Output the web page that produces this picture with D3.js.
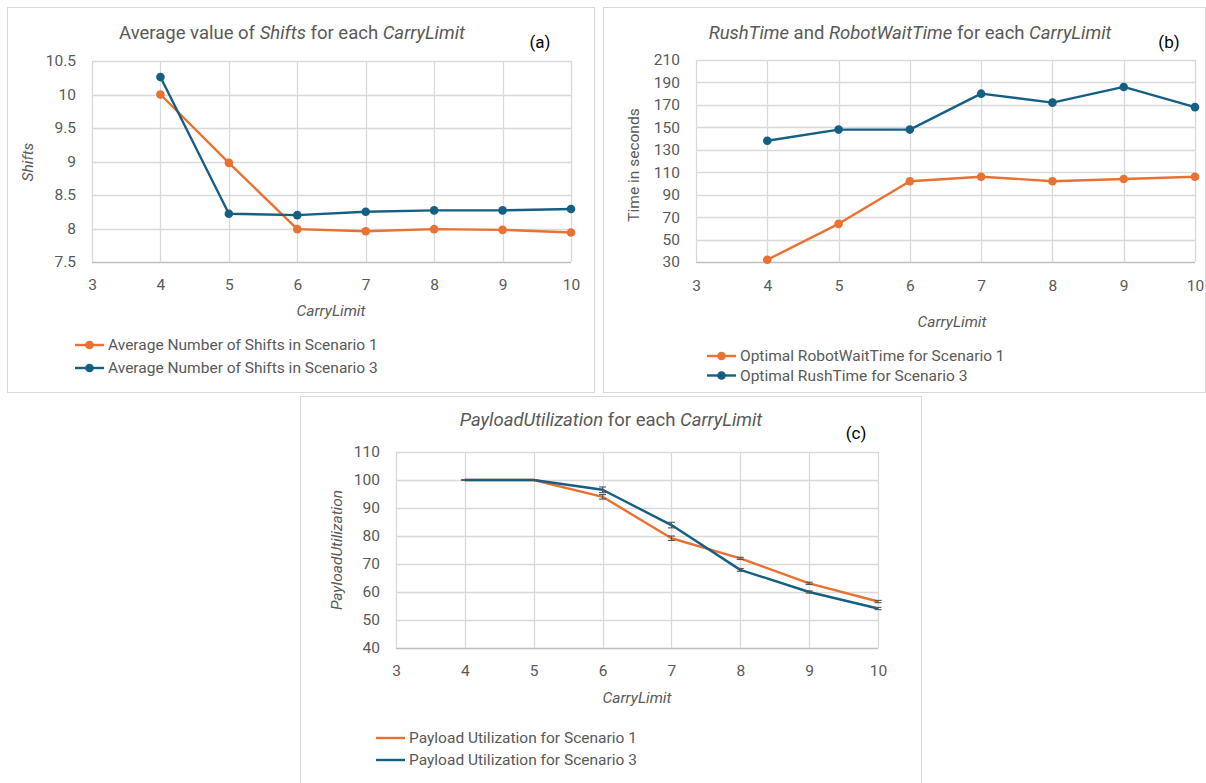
<!DOCTYPE html>
<html><head><meta charset="utf-8">
<script src="https://cdn.jsdelivr.net/npm/d3@7"></script>
<style>
body{margin:0;background:#fff;}
svg{display:block;font-family:Roboto,"Noto Sans",sans-serif;}
</style></head>
<body>
<svg id="chart" width="1206" height="783"></svg>
<script>
// ---- data ----
const carryLimit = [4, 5, 6, 7, 8, 9, 10];
const xTicks = [3, 4, 5, 6, 7, 8, 9, 10];

const shiftsScenario1 = [10.0, 8.98, 7.99, 7.96, 7.99, 7.98, 7.94];
const shiftsScenario3 = [10.26, 8.22, 8.20, 8.25, 8.27, 8.27, 8.29];
const shiftsTicks = [7.5, 8, 8.5, 9, 9.5, 10, 10.5];

const robotWaitScenario1 = [32, 64, 102, 106, 102, 104, 106];
const rushTimeScenario3 = [138, 148, 148, 180, 172, 186, 168];
const timeTicks = [30, 50, 70, 90, 110, 130, 150, 170, 190, 210];

const payloadScenario1 = [100, 100, 94, 79.2, 72, 63.1, 56.6];
const payloadScenario3 = [100, 100, 96.5, 83.9, 67.9, 60, 54.1];
const payloadErr1 = [0, 0, 0.8, 0.8, 0.4, 0.4, 0.4];
const payloadErr3 = [0, 0, 1.0, 1.0, 0.5, 0.4, 0.4];
const payloadTicks = [40, 50, 60, 70, 80, 90, 100, 110];

const ORANGE = "#E97132", BLUE = "#156082";
const svg = d3.select("#chart");

function panel(cfg) {
  const g = svg.append("g");
  g.append("rect").attr("x", cfg.box[0] + 0.5).attr("y", cfg.box[1] + 0.5)
    .attr("width", cfg.box[2] - cfg.box[0]).attr("height", cfg.box[3] - cfg.box[1])
    .attr("fill", "#fff").attr("stroke", "#d9d9d9").attr("stroke-width", 1);

  const x = d3.scaleLinear().domain([3, 10]).range([cfg.plot[0], cfg.plot[1]]);
  const y = d3.scaleLinear().domain(cfg.yDomain).range([cfg.plot[3], cfg.plot[2]]);

  g.append("g").selectAll("line.h").data(cfg.yTicks).join("line")
    .attr("x1", cfg.plot[0]).attr("x2", cfg.plot[1])
    .attr("y1", d => Math.round(y(d)) + 0.5).attr("y2", d => Math.round(y(d)) + 0.5)
    .attr("stroke", d => d === cfg.yDomain[0] ? "#bfbfbf" : "#d9d9d9").attr("stroke-width", 1.3);
  g.append("g").selectAll("line.v").data(xTicks).join("line")
    .attr("x1", d => Math.round(x(d)) + 0.5).attr("x2", d => Math.round(x(d)) + 0.5)
    .attr("y1", cfg.plot[2]).attr("y2", cfg.plot[3])
    .attr("stroke", "#d9d9d9").attr("stroke-width", 1.3);

  const yAxis = g.append("g").attr("transform", `translate(${cfg.yLabelRight},0)`)
    .call(d3.axisLeft(y).tickValues(cfg.yTicks).tickSize(0).tickPadding(0).tickFormat(d3.format("")));
  const xAxis = g.append("g").attr("transform", `translate(0,${cfg.xLabelY})`)
    .call(d3.axisBottom(x).tickValues(xTicks).tickSize(0).tickPadding(0).tickFormat(d3.format("d")));
  [yAxis, xAxis].forEach(a => {
    a.select(".domain").remove();
    a.selectAll("text").attr("font-size", 15.5).attr("fill", "#595959")
      .attr("font-family", "Roboto,sans-serif");
  });
  xAxis.selectAll("text").attr("dy", "0.35em");

  cfg.series.forEach(s => {
    const pts = carryLimit.map((c, i) => [c, s.values[i]]);
    g.append("path").datum(pts)
      .attr("fill", "none").attr("stroke", s.color).attr("stroke-width", 2.4)
      .attr("stroke-linejoin", "round")
      .attr("d", d3.line().x(d => x(d[0])).y(d => y(d[1])));
    if (s.markers) {
      g.append("g").selectAll("circle").data(pts).join("circle")
        .attr("cx", d => x(d[0])).attr("cy", d => y(d[1])).attr("r", 4.3)
        .attr("fill", s.color);
    }
    if (s.err) {
      const eg = g.append("g").attr("stroke", "#555").attr("stroke-width", 1.1);
      pts.forEach((d, i) => {
        const cx = x(d[0]), e = s.err[i];
        const y1 = y(d[1] + e), y2 = y(d[1] - e);
        eg.append("line").attr("x1", cx).attr("x2", cx).attr("y1", y1).attr("y2", y2);
        eg.append("line").attr("x1", cx - 3.5).attr("x2", cx + 3.5).attr("y1", y1).attr("y2", y1);
        eg.append("line").attr("x1", cx - 3.5).attr("x2", cx + 3.5).attr("y1", y2).attr("y2", y2);
      });
    }
  });

  const t = g.append("text").attr("x", cfg.titlePos[0]).attr("y", cfg.titlePos[1])
    .attr("text-anchor", "middle").attr("font-size", 18.5).attr("fill", "#595959");
  cfg.title.forEach(p => t.append("tspan").text(p[0]).attr("font-style", p[1] ? "italic" : "normal"));

  g.append("text").attr("x", cfg.tagPos[0]).attr("y", cfg.tagPos[1])
    .attr("text-anchor", "middle").attr("font-size", 17).attr("fill", "#000").text(cfg.tag);

  g.append("text").attr("x", cfg.xTitlePos[0]).attr("y", cfg.xTitlePos[1])
    .attr("text-anchor", "middle").attr("dy", "0.35em").attr("font-size", 15.5)
    .attr("font-style", "italic").attr("fill", "#595959").text("CarryLimit");
  g.append("text").attr("transform", `translate(${cfg.yTitlePos[0]},${cfg.yTitlePos[1]}) rotate(-90)`)
    .attr("text-anchor", "middle").attr("dy", "0.35em").attr("font-size", 15.5)
    .attr("font-style", cfg.yTitleItalic ? "italic" : "normal").attr("fill", "#595959").text(cfg.yTitle);

  cfg.series.forEach((s, i) => {
    const ly = cfg.legend.y + i * cfg.legend.dy;
    g.append("line").attr("x1", cfg.legend.x).attr("x2", cfg.legend.x + 29)
      .attr("y1", ly).attr("y2", ly).attr("stroke", s.color).attr("stroke-width", 2.4);
    if (s.markers) g.append("circle").attr("cx", cfg.legend.x + 14.5).attr("cy", ly).attr("r", 4.3).attr("fill", s.color);
    g.append("text").attr("x", cfg.legend.x + 33).attr("y", ly).attr("dy", "0.35em")
      .attr("font-size", 15.5).attr("fill", "#595959").text(s.label);
  });
}

panel({
  box: [7, 7, 594, 392], plot: [92, 571, 61, 262], yDomain: [7.5, 10.5], yTicks: shiftsTicks,
  yLabelRight: 76, xLabelY: 285,
  title: [["Average value of ", false], ["Shifts", true], [" for each ", false], ["CarryLimit", true]],
  titlePos: [292, 39], tag: "(a)", tagPos: [540, 48],
  xTitlePos: [331, 311], yTitlePos: [28, 162], yTitle: "Shifts", yTitleItalic: true,
  legend: { x: 75, y: 345, dy: 23 },
  series: [
    { values: shiftsScenario1, color: ORANGE, markers: true, label: "Average Number of Shifts in Scenario 1" },
    { values: shiftsScenario3, color: BLUE, markers: true, label: "Average Number of Shifts in Scenario 3" }
  ]
});

panel({
  box: [603, 7, 1205, 392], plot: [696, 1195, 60, 262], yDomain: [30, 210], yTicks: timeTicks,
  yLabelRight: 680, xLabelY: 286,
  title: [["RushTime", true], [" and ", false], ["RobotWaitTime", true], [" for each ", false], ["CarryLimit", true]],
  titlePos: [910, 39], tag: "(b)", tagPos: [1169, 48],
  xTitlePos: [952, 322], yTitlePos: [634, 165], yTitle: "Time in seconds", yTitleItalic: false,
  legend: { x: 707, y: 356, dy: 19.5 },
  series: [
    { values: robotWaitScenario1, color: ORANGE, markers: true, label: "Optimal RobotWaitTime for Scenario 1" },
    { values: rushTimeScenario3, color: BLUE, markers: true, label: "Optimal RushTime for Scenario 3" }
  ]
});

panel({
  box: [300, 396, 921, 790], plot: [396, 878, 452, 648], yDomain: [40, 110], yTicks: payloadTicks,
  yLabelRight: 380, xLabelY: 671,
  title: [["PayloadUtilization", true], [" for each ", false], ["CarryLimit", true]],
  titlePos: [611, 426], tag: "(c)", tagPos: [856, 439],
  xTitlePos: [637, 698], yTitlePos: [337, 550], yTitle: "PayloadUtilization", yTitleItalic: true,
  legend: { x: 376, y: 738, dy: 22 },
  series: [
    { values: payloadScenario1, color: ORANGE, markers: false, err: payloadErr1, label: "Payload Utilization for Scenario 1" },
    { values: payloadScenario3, color: BLUE, markers: false, err: payloadErr3, label: "Payload Utilization for Scenario 3" }
  ]
});
</script>
</body></html>
